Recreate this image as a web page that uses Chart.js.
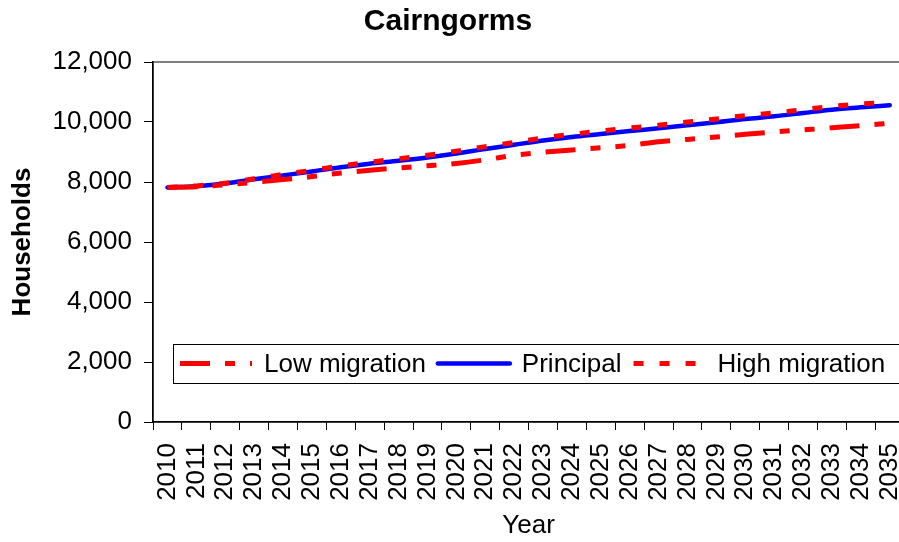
<!DOCTYPE html>
<html>
<head>
<meta charset="utf-8">
<script src="https://cdn.jsdelivr.net/npm/chart.js@4/dist/chart.umd.min.js"></script>
<style>
  html, body { margin: 0; padding: 0; background: #fff; overflow: hidden; }
  #wrap { width: 934px; height: 542px; }
</style>
</head>
<body>
<div id="wrap"><canvas id="householdChart" width="934" height="542"></canvas></div>
<script>
const chartTitle = 'Cairngorms';
const years = ['2010', '2011', '2012', '2013', '2014', '2015', '2016', '2017', '2018',
  '2019', '2020', '2021', '2022', '2023', '2024', '2025', '2026', '2027', '2028',
  '2029', '2030', '2031', '2032', '2033', '2034', '2035'];
const lowMigration = [7820, 7840, 7910, 7990, 8080, 8180, 8300, 8390, 8470, 8540, 8620, 8740, 8890,
  8990, 9070, 9140, 9220, 9340, 9420, 9500, 9590, 9670, 9740, 9810, 9880, 9960];
const principal = [7820, 7860, 7950, 8090, 8220, 8350, 8490, 8610, 8710, 8820, 8950, 9100, 9240,
  9380, 9500, 9600, 9700, 9790, 9890, 9990, 10100, 10190, 10300, 10410, 10490, 10560];
const highMigration = [7820, 7870, 7960, 8110, 8250, 8390, 8530, 8660, 8770, 8890, 9030, 9180, 9320,
  9470, 9590, 9700, 9800, 9890, 10000, 10100, 10210, 10300, 10410, 10520, 10600, 10660];
const yTicks = [0, 2000, 4000, 6000, 8000, 10000, 12000];

const FONT = "'Liberation Sans', Arial, sans-serif";

// grey plot-area frame (Excel style), axes draw over left/bottom
const plotFrame = {
  id: 'plotFrame',
  beforeDraw(chart) {
    const {ctx, chartArea: a} = chart;
    ctx.save();
    ctx.strokeStyle = '#808080';
    ctx.lineWidth = 2;
    ctx.strokeRect(a.left, a.top, a.right - a.left, a.bottom - a.top);
    ctx.restore();
  }
};

// title centred on the visible picture, not on the wider canvas
const pageTitle = {
  id: 'pageTitle',
  afterDraw(chart) {
    const ctx = chart.ctx;
    ctx.save();
    ctx.font = 'bold 30px ' + FONT;
    ctx.fillStyle = '#000';
    ctx.textAlign = 'center';
    ctx.textBaseline = 'middle';
    ctx.fillText(chartTitle, 448, 22);
    ctx.restore();
  }
};

// boxed legend sitting inside the plot area
const boxLegend = {
  id: 'boxLegend',
  afterDatasetsDraw(chart) {
    const {ctx, chartArea: a} = chart;
    const top = 344, bottom = 383, left = 173;
    const mid = (top + bottom) / 2;
    ctx.save();
    ctx.fillStyle = '#fff';
    ctx.fillRect(left, top, a.right - 2 - left, bottom - top);
    ctx.strokeStyle = '#000';
    ctx.lineWidth = 1;
    ctx.strokeRect(left + 0.5, top + 0.5, a.right - 3 - left, bottom - top);
    ctx.font = '26px ' + FONT;
    ctx.textBaseline = 'middle';
    ctx.fillStyle = '#000';
    let x = left + 7;
    chart.data.datasets.forEach(ds => {
      ctx.strokeStyle = ds.borderColor;
      ctx.lineWidth = ds.borderWidth;
      ctx.lineCap = ds.borderCapStyle || 'butt';
      ctx.setLineDash(ds.borderDash || []);
      ctx.beginPath();
      ctx.moveTo(x, mid);
      ctx.lineTo(x + 72, mid);
      ctx.stroke();
      ctx.setLineDash([]);
      x += 72 + 12;
      ctx.fillText(ds.label, x, mid + 1);
      x += ctx.measureText(ds.label).width + 12;
    });
    ctx.restore();
  }
};

const ctx = document.getElementById('householdChart').getContext('2d');
const chart = new Chart(ctx, {
  type: 'line',
  data: {
    labels: years,
    datasets: [
      {
        label: 'Low migration',
        data: lowMigration,
        borderColor: '#ff0000',
        borderWidth: 5,
        borderDash: [30, 15, 10, 15, 10, 15],
        order: 1
      },
      {
        label: 'Principal',
        data: principal,
        borderColor: '#0000ff',
        borderWidth: 4.5,
        borderCapStyle: 'round',
        order: 2
      },
      {
        label: 'High migration',
        data: highMigration,
        borderColor: '#ff0000',
        borderWidth: 5,
        borderDash: [10, 16],
        order: 0
      }
    ]
  },
  options: {
    responsive: false,
    animation: false,
    layout: { padding: { top: 62, right: 2 } },
    elements: {
      point: { radius: 0, hoverRadius: 0 },
      line: { cubicInterpolationMode: 'monotone', fill: false }
    },
    plugins: {
      legend: { display: false },
      tooltip: { enabled: false },
      title: { display: false }
    },
    scales: {
      x: {
        offset: true,
        grid: {
          offset: true,
          drawOnChartArea: false,
          drawTicks: true,
          tickLength: 8,
          color: '#000'
        },
        border: { display: true, color: '#000', width: 1.5 },
        ticks: {
          autoSkip: false,
          maxRotation: 90,
          minRotation: 90,
          padding: 13,
          color: '#000',
          font: { family: FONT, size: 26 }
        },
        title: {
          display: true,
          text: 'Year',
          color: '#000',
          font: { family: FONT, size: 26 },
          padding: { top: 4, bottom: 1 }
        },
        afterFit(scale) { scale.height = 120; }
      },
      y: {
        min: 0,
        max: 12000,
        afterBuildTicks(scale) { scale.ticks = yTicks.map(v => ({ value: v })); },
        grid: {
          drawOnChartArea: false,
          drawTicks: true,
          tickLength: 9,
          color: '#000'
        },
        border: { display: true, color: '#000', width: 1.5 },
        ticks: {
          padding: 12,
          color: '#000',
          font: { family: FONT, size: 26 },
          callback: v => v.toLocaleString('en-US')
        },
        title: {
          display: true,
          text: 'Households',
          color: '#000',
          font: { family: FONT, size: 26, weight: 'bold' },
          padding: { top: 7, bottom: 4 }
        },
        afterFit(scale) { scale.width = 153; }
      }
    }
  },
  plugins: [plotFrame, pageTitle, boxLegend]
});
</script>
</body>
</html>
